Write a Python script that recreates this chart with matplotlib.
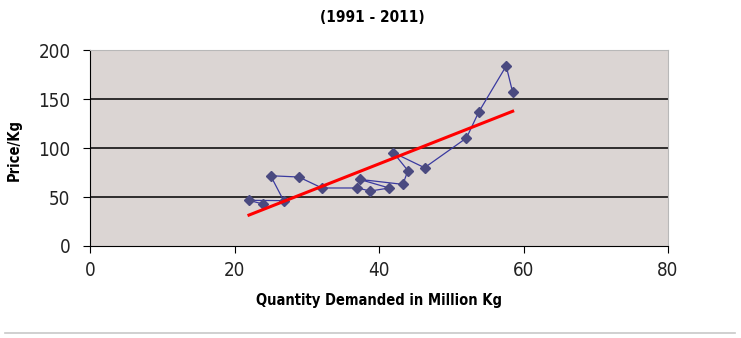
import matplotlib
matplotlib.use("Agg")
import matplotlib.pyplot as plt
from matplotlib.lines import Line2D
import numpy as np

# quantity demanded (million kg) and price per kg, in series order
quantity = [23.9, 22.0, 26.8, 25.0, 28.9, 32.1, 37.0, 38.8, 41.4, 37.3,
            43.3, 44.0, 42.0, 46.3, 52.1, 53.8, 57.6, 58.5]
price = [42.9, 46.6, 46.3, 71.7, 70.4, 59.2, 59.2, 56.1, 59.2, 68.0,
         62.9, 76.9, 95.2, 79.9, 110.2, 136.7, 183.7, 156.8]

x_ticks = [0, 20, 40, 60, 80]
y_ticks = [0, 50, 100, 150, 200]

plt.rcParams["font.family"] = ["DejaVu Sans"]
plt.rcParams["font.stretch"] = "condensed"   # narrow look of the original

fig = plt.figure(figsize=(7.41, 3.38), dpi=100)
ax = fig.add_axes([0.1215, 0.2722, 0.78, 0.5798])
ax.set_facecolor("#dbd5d3")

ax.plot(quantity, price, color="#3a3aa0", lw=0.9, marker="D", ms=5,
        mfc="#4a4a80", mec="#4a4a80", zorder=3)

# linear trend line across the data range
q = np.array(quantity)
m, b = np.polyfit(q, np.array(price), 1)
xs = np.array([q.min(), q.max()])
ax.plot(xs, m * xs + b, color="#ff0000", lw=2.2, zorder=4)

ax.set_xlim(0, 80)
ax.set_ylim(0, 200)
ax.set_xticks(x_ticks)
ax.set_yticks(y_ticks)
ax.tick_params(labelsize=13.5, direction="out", length=5, color="black", pad=6,
               labelcolor="#222222")
ax.tick_params(axis="y", pad=9)
for y in y_ticks[1:-1]:
  ax.axhline(y, color="black", lw=1.1, zorder=1)

for side in ("top", "right"):
  ax.spines[side].set_color("#b8b8b8")
for side in ("left", "bottom"):
  ax.spines[side].set_color("black")

ax.set_xlabel("Quantity Demanded in Million Kg", fontsize=10.5, fontweight="bold", labelpad=9)
fig.text(0.019, 0.555, "Price/Kg", rotation=90, fontsize=10.5, fontweight="bold",
         ha="center", va="center")
fig.text(0.502, 0.947, "(1991 - 2011)", fontsize=11, fontweight="bold",
         ha="center", va="center")

fig.add_artist(Line2D([0.007, 0.992], [0.015, 0.015], color="#c8c8c8", lw=1.2))

fig.savefig("out.png", dpi=100)
